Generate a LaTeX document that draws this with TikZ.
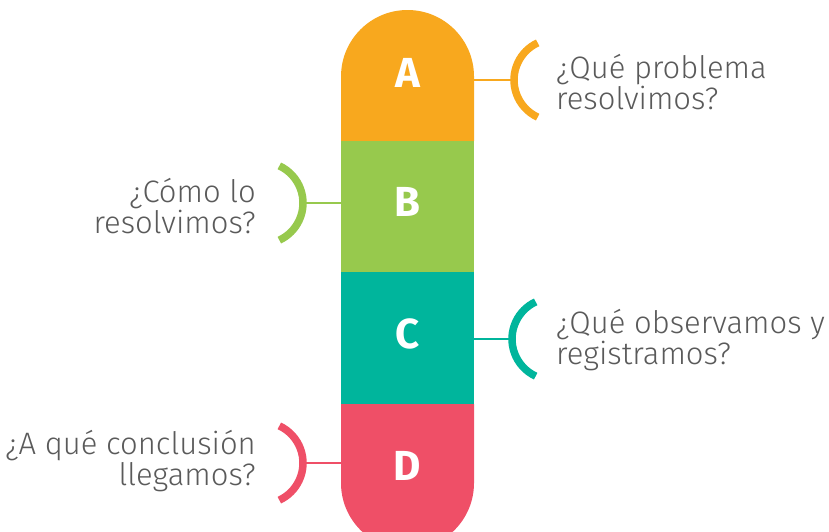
\documentclass[tikz,border=0pt]{standalone}
\usepackage{fontspec}
\setmainfont{Fira Sans Light}
\newfontfamily\letterfont{Fira Sans}
\definecolor{cA}{HTML}{F8A81E}
\definecolor{cB}{HTML}{97C94D}
\definecolor{cC}{HTML}{00B59C}
\definecolor{cD}{HTML}{EF4F67}
\definecolor{txt}{HTML}{5A5A5A}
\begin{document}
\begin{tikzpicture}[x=1pt,y=-1pt,
  letter/.style={text=white,font=\letterfont\bfseries\fontsize{42}{42}\selectfont,inner sep=0pt},
  label/.style={text=txt,font=\fontsize{31}{31}\selectfont,inner sep=0pt},
  bracket/.style={line width=7.5pt},
  conn/.style={line width=2.5pt}]
\useasboundingbox (0,0) rectangle (829,531);
\clip (0,0) rectangle (829,531);
% pill sections
\fill[cA] (341,141) -- (341,76.5) arc[start angle=180,end angle=0,x radius=66.5,y radius=-66.5] -- (474,141) -- cycle;
\fill[cB] (341,141) rectangle (474,272);
\fill[cC] (341,272) rectangle (474,404);
\fill[cD] (341,404) -- (341,483) arc[start angle=180,end angle=360,x radius=66.5,y radius=-66.5] -- (474,404) -- cycle;
\coordinate (pillL) at (341,0);
\coordinate (pillR) at (474,0);
% letters
\node[letter] (lA) at (407.5,73) {A};
\node[letter] (lB) at (407.5,202) {B};
\node[letter] (lC) at (407.5,334) {C};
\node[letter] (lD) at (407.5,466) {D};
% brackets
\draw[bracket,cA] (555,80) ++(115:41) arc[start angle=115,end angle=245,radius=41];
\draw[bracket,cB] (262,203) ++(-65:41) arc[start angle=-65,end angle=65,radius=41];
\draw[bracket,cC] (553,339) ++(115:41) arc[start angle=115,end angle=245,radius=41];
\draw[bracket,cD] (262,463) ++(-65:41) arc[start angle=-65,end angle=65,radius=41];
\coordinate (bA) at (514,80);
\coordinate (bB) at (303,203);
\coordinate (bC) at (512,339);
\coordinate (bD) at (303,463);
% connectors
\draw[conn,cA] (bA) -- (bA -| pillR);
\draw[conn,cB] (bB) -- (bB -| pillL);
\draw[conn,cC] (bC) -- (bC -| pillR);
\draw[conn,cD] (bD) -- (bD -| pillL);
% labels
\node[label,anchor=west,align=left] (tA) at (556,82) {¿Qué problema\\resolvimos?};
\node[label,anchor=east,align=right] (tB) at (256,206) {¿Cómo lo\\resolvimos?};
\node[label,anchor=west,align=left] (tC) at (556,340) {¿Qué observamos y\\registramos?};
\node[label,anchor=east,align=right] (tD) at (256,461) {¿A qué conclusión\\llegamos?};
\end{tikzpicture}
\end{document}
